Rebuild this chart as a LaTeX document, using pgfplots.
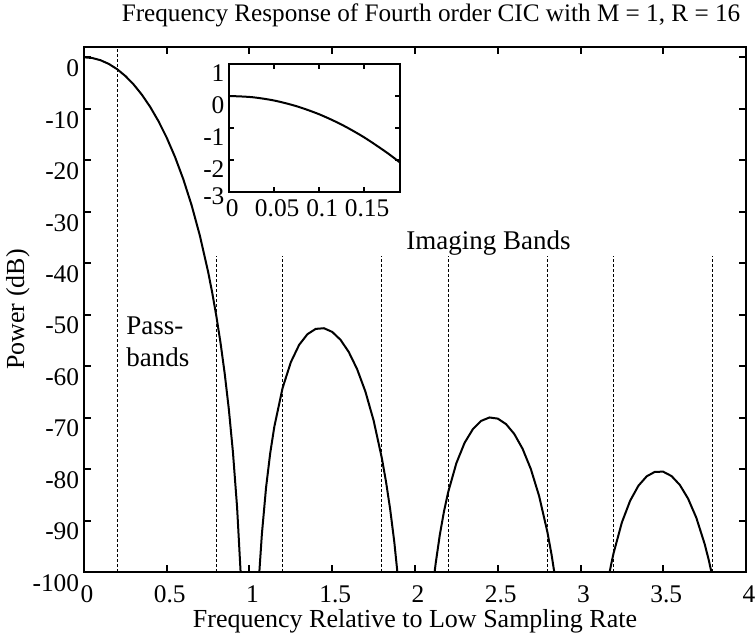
\documentclass[border=0pt]{standalone}
\usepackage{pgfplots}
\pgfplotsset{compat=1.18}
\usetikzlibrary{calc}
\usepackage{fontspec}
\setmainfont{Liberation Serif}
\begin{document}
\fontsize{12.7}{15}\selectfont
\begin{tikzpicture}
\begin{axis}[name=ax, scale only axis, width=331pt, height=262.5pt,
  xmin=0, xmax=4, ymin=-100, ymax=2,
  xtick={0,0.5,1,1.5,2,2.5,3,3.5,4},
  xticklabels={0,0.5,1,1.5,2,2.5,3,3.5,4},
  ytick={-100,-90,-80,-70,-60,-50,-40,-30,-20,-10,0},
  yticklabels={-100,-90,-80,-70,-60,-50,-40,-30,-20,-10,0},
  tick align=inside, major tick length=3.5pt,
  axis line style={line width=1.3pt},
  every tick/.style={black, line width=1pt},
  xticklabel style={anchor=base, yshift=-15.5pt, xshift=1.5pt},
  yticklabel style={yshift=-5.5pt, xshift=2pt},
  title={Frequency Response of Fourth order CIC with M = 1, R = 16},
  title style={at={(axis description cs:0.5,1)}, anchor=base, yshift=6.5pt, xshift=8pt, font=\fontsize{12.6}{15}\selectfont},
  xlabel={Frequency Relative to Low Sampling Rate},
  ylabel={Power (dB)},
  xlabel style={at={(axis description cs:0.5,0)}, anchor=base, yshift=-28pt, font=\fontsize{13}{15}\selectfont},
  ylabel style={at={(axis description cs:-0.0906,0.5)}, anchor=base, rotate=0, font=\fontsize{13}{15}\selectfont},
  clip=true]
\addplot[black, line width=1pt] coordinates {
(0,0) (0.05,-0.142) (0.1,-0.571) (0.15,-1.291) (0.2,-2.308) (0.25,-3.634)
(0.3,-5.285) (0.35,-7.280) (0.4,-9.645) (0.45,-12.414) (0.5,-15.634)
(0.55,-19.364) (0.6,-23.684) (0.65,-28.72) (0.7,-34.63) (0.75,-41.69)
(0.775,-45.78) (0.8,-50.34) (0.825,-55.49) (0.85,-61.40) (0.875,-68.33)
(0.9,-76.73) (0.925,-87.42) (0.95,-102.24) (0.96,-110.3)
(1.04,-113.0) (1.05,-105.67) (1.06,-99.73) (1.075,-92.58) (1.1,-83.61)
(1.125,-76.95) (1.15,-71.77) (1.2,-64.24) (1.25,-59.22) (1.3,-55.87)
(1.35,-53.80) (1.4,-52.77) (1.45,-52.64) (1.5,-53.36) (1.55,-54.89)
(1.6,-57.27) (1.65,-60.57) (1.7,-64.92) (1.75,-70.57) (1.8,-77.93)
(1.825,-82.48) (1.85,-87.82) (1.875,-94.19) (1.9,-102.06) (1.92,-109.96)
(2.08,-112.6) (2.1,-105.36) (2.11,-102.32) (2.12,-99.59) (2.125,-98.32)
(2.15,-92.77) (2.175,-88.26) (2.2,-84.54) (2.25,-78.85) (2.3,-74.88)
(2.35,-72.23) (2.4,-70.64) (2.45,-69.98) (2.5,-70.20) (2.55,-71.26)
(2.6,-73.19) (2.65,-76.06) (2.7,-80.00) (2.75,-85.25) (2.8,-92.24)
(2.825,-96.60) (2.85,-101.77) (2.9,-115.67)
(3.1,-117.71) (3.15,-104.83) (3.175,-100.18) (3.19,-97.79) (3.2,-96.33)
(3.25,-90.37) (3.3,-86.15) (3.35,-83.24) (3.4,-81.41) (3.45,-80.53)
(3.5,-80.52) (3.55,-81.36) (3.6,-83.08) (3.65,-85.74) (3.7,-89.48)
(3.75,-94.54) (3.775,-97.68) (3.8,-101.33) (3.85,-110.67)
};
\addplot[black, line width=0.5pt, dash pattern=on 1.5pt off 1pt] coordinates {(0.2,-100) (0.2,2)};
\addplot[black, line width=0.5pt, dash pattern=on 1.5pt off 1pt] coordinates {(0.8,-100) (0.8,-38.7)};
\addplot[black, line width=0.5pt, dash pattern=on 1.5pt off 1pt] coordinates {(1.2,-100) (1.2,-38.7)};
\addplot[black, line width=0.5pt, dash pattern=on 1.5pt off 1pt] coordinates {(1.8,-100) (1.8,-38.7)};
\addplot[black, line width=0.5pt, dash pattern=on 1.5pt off 1pt] coordinates {(2.2,-100) (2.2,-38.7)};
\addplot[black, line width=0.5pt, dash pattern=on 1.5pt off 1pt] coordinates {(2.8,-100) (2.8,-38.7)};
\addplot[black, line width=0.5pt, dash pattern=on 1.5pt off 1pt] coordinates {(3.2,-100) (3.2,-38.7)};
\addplot[black, line width=0.5pt, dash pattern=on 1.5pt off 1pt] coordinates {(3.8,-100) (3.8,-38.7)};
\node[anchor=base west, inner sep=0pt, font=\fontsize{13.5}{16}\selectfont] at (axis cs:0.254,-53.9) {Pass-};
\node[anchor=base west, inner sep=0pt, font=\fontsize{13.5}{16}\selectfont] at (axis cs:0.254,-60.1) {bands};
\node[anchor=base west, inner sep=0pt, font=\fontsize{13.5}{16}\selectfont] at (axis cs:1.946,-37.4) {Imaging Bands};
\end{axis}
\begin{axis}[name=inset, at={($(ax.north west)+(72.65pt,-8.5pt)$)}, anchor=north west,
  scale only axis, width=85.35pt, height=64pt,
  xmin=0, xmax=0.19, ymin=-3, ymax=1,
  xtick={0,0.05,0.1,0.15}, xticklabels={0,0.05,0.1,0.15},
  ytick={-3,-2,-1,0,1}, yticklabels={\raisebox{4.5pt}{-3},-2,-1,0,1},
  tick align=inside, major tick length=2.5pt,
  axis line style={line width=1pt},
  every tick/.style={black, line width=0.8pt},
  xticklabel style={anchor=base, yshift=-12.5pt, xshift=1.5pt},
  yticklabel style={yshift=-4.5pt, xshift=2pt}]
\addplot[black, line width=1pt, smooth] coordinates {
(0,0) (0.025,-0.036) (0.05,-0.142) (0.075,-0.321) (0.1,-0.571)
(0.125,-0.894) (0.15,-1.291) (0.175,-1.762) (0.19,-2.080)
};
\end{axis}
\pgfresetboundingbox
\path ([shift={(-42pt,-32pt)}]ax.south west) rectangle ([shift={(4.5pt,23.5pt)}]ax.north east);
\end{tikzpicture}
\end{document}
